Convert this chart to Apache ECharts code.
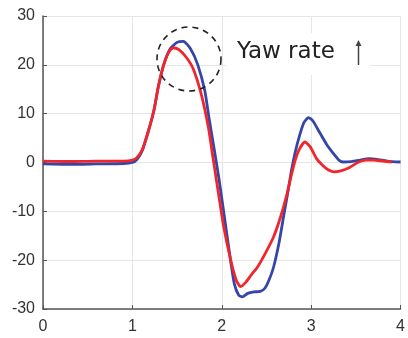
<!DOCTYPE html>
<html>
<head>
<meta charset="utf-8">
<script src="https://cdn.jsdelivr.net/npm/echarts@6/dist/echarts.min.js"></script>
<style>
  html, body { margin: 0; padding: 0; background: #fff; }
  #main { width: 408px; height: 338px; }
</style>
</head>
<body>
<div id="main"></div>
<script>
// x ticks / y ticks
const xTicks = [0, 1, 2, 3, 4]
const yTicks = [-30, -20, -10, 0, 10, 20, 30]

// blue curve (time, yaw rate)
const blueData = [
  [0, -0.3], [0.3, -0.4], [0.6, -0.3], [0.9, -0.2], [1.0, 0], [1.05, 0.6],
  [1.11, 2.4], [1.18, 6.5], [1.24, 10.6], [1.29, 15.5], [1.35, 20], [1.42, 23.2],
  [1.5, 24.6], [1.57, 24.8], [1.65, 23.3], [1.73, 20.1], [1.81, 14.7], [1.86, 8.8],
  [1.92, 2.2], [1.97, -3.5], [2.03, -11.2], [2.09, -19], [2.14, -24.8], [2.19, -27.2],
  [2.23, -27.5], [2.29, -26.8], [2.36, -26.5], [2.43, -26.4], [2.48, -25.8], [2.53, -24],
  [2.58, -21.4], [2.64, -16.5], [2.69, -11.2], [2.74, -6], [2.78, -1.6], [2.82, 2],
  [2.87, 5.5], [2.92, 8.2], [2.97, 9.2], [3.02, 8.5], [3.09, 6.3], [3.17, 3.8],
  [3.25, 1.8], [3.31, 0.5], [3.36, 0.1], [3.45, 0.2], [3.55, 0.5], [3.65, 0.8],
  [3.75, 0.6], [3.85, 0.3], [4.0, 0.1]
]

// red curve
const redData = [
  [0, 0.3], [0.3, 0.2], [0.6, 0.3], [0.9, 0.3], [1.0, 0.5], [1.05, 1],
  [1.11, 2.6], [1.18, 6.5], [1.24, 10.6], [1.29, 15.5], [1.35, 20], [1.41, 22.7],
  [1.46, 23.5], [1.52, 23.1], [1.60, 21.6], [1.68, 19.2], [1.77, 14], [1.85, 7.2],
  [1.90, 1.2], [1.96, -6], [2.02, -13], [2.10, -20], [2.16, -24], [2.21, -25.4],
  [2.27, -24.5], [2.33, -23], [2.40, -21.4], [2.49, -18.5], [2.58, -15.2], [2.66, -11],
  [2.73, -6.4], [2.78, -2.5], [2.82, 0.4], [2.87, 2.8], [2.93, 4.2], [2.99, 3.2],
  [3.06, 0.8], [3.13, -0.6], [3.19, -1.5], [3.25, -1.9], [3.33, -1.7], [3.43, -1.0],
  [3.52, 0], [3.61, 0.5], [3.7, 0.5], [3.8, 0.3], [3.9, 0.1]
]

const annotation = 'Yaw rate'

const chart = echarts.init(document.getElementById('main'))
const axisLabel = { color: '#333', fontSize: 16, fontFamily: 'Liberation Sans' }
const option = {
  animation: false,
  grid: { left: 43, right: 3, top: 16, bottom: 29 },
  xAxis: {
    type: 'value',
    min: xTicks[0],
    max: xTicks[xTicks.length - 1],
    interval: 1,
    axisLine: { show: true, onZero: false, lineStyle: { color: '#555', width: 1.5 } },
    axisTick: { show: true, inside: true, length: 4, lineStyle: { color: '#555' } },
    axisLabel: { ...axisLabel, margin: 10 },
    splitLine: { show: true, lineStyle: { color: '#e6e6e6', width: 1 } }
  },
  yAxis: {
    type: 'value',
    min: yTicks[0],
    max: yTicks[yTicks.length - 1],
    interval: 10,
    axisLine: { show: true, onZero: false, lineStyle: { color: '#555', width: 1.5 } },
    axisTick: { show: true, inside: true, length: 4, lineStyle: { color: '#555' } },
    axisLabel: { ...axisLabel, margin: 8 },
    splitLine: { show: true, lineStyle: { color: '#e6e6e6', width: 1 } }
  },
  series: [
    {
      type: 'line',
      data: blueData,
      showSymbol: false,
      smooth: 0.2,
      lineStyle: { color: '#3545a8', width: 2.8 }
    },
    {
      type: 'line',
      data: redData,
      showSymbol: false,
      smooth: 0.2,
      lineStyle: { color: '#f0262a', width: 2.8 }
    }
  ],
  graphic: [
    // white box behind annotation
    { type: 'rect', shape: { x: 226, y: 33, width: 144, height: 42 }, style: { fill: '#fff' }, z: 10 },
    { type: 'text', x: 237, y: 52, style: { text: annotation, font: '23px DejaVu Sans', fill: '#222', verticalAlign: 'middle' }, z: 11 },
    // thin up arrow
    { type: 'line', shape: { x1: 358.5, y1: 44, x2: 358.5, y2: 65 }, style: { stroke: '#444', lineWidth: 1.5 }, z: 11 },
    { type: 'polygon', shape: { points: [[358.5, 40], [355.5, 46], [361.5, 46]] }, style: { fill: '#444' }, z: 11 },
    // dashed circle round the peak
    { type: 'circle', shape: { cx: 189, cy: 59, r: 32 }, style: { fill: 'none', stroke: '#222', lineWidth: 1.6, lineDash: [6, 5] }, z: 12 }
  ]
}
chart.setOption(option)
window.addEventListener('resize', chart.resize)
</script>
</body>
</html>
